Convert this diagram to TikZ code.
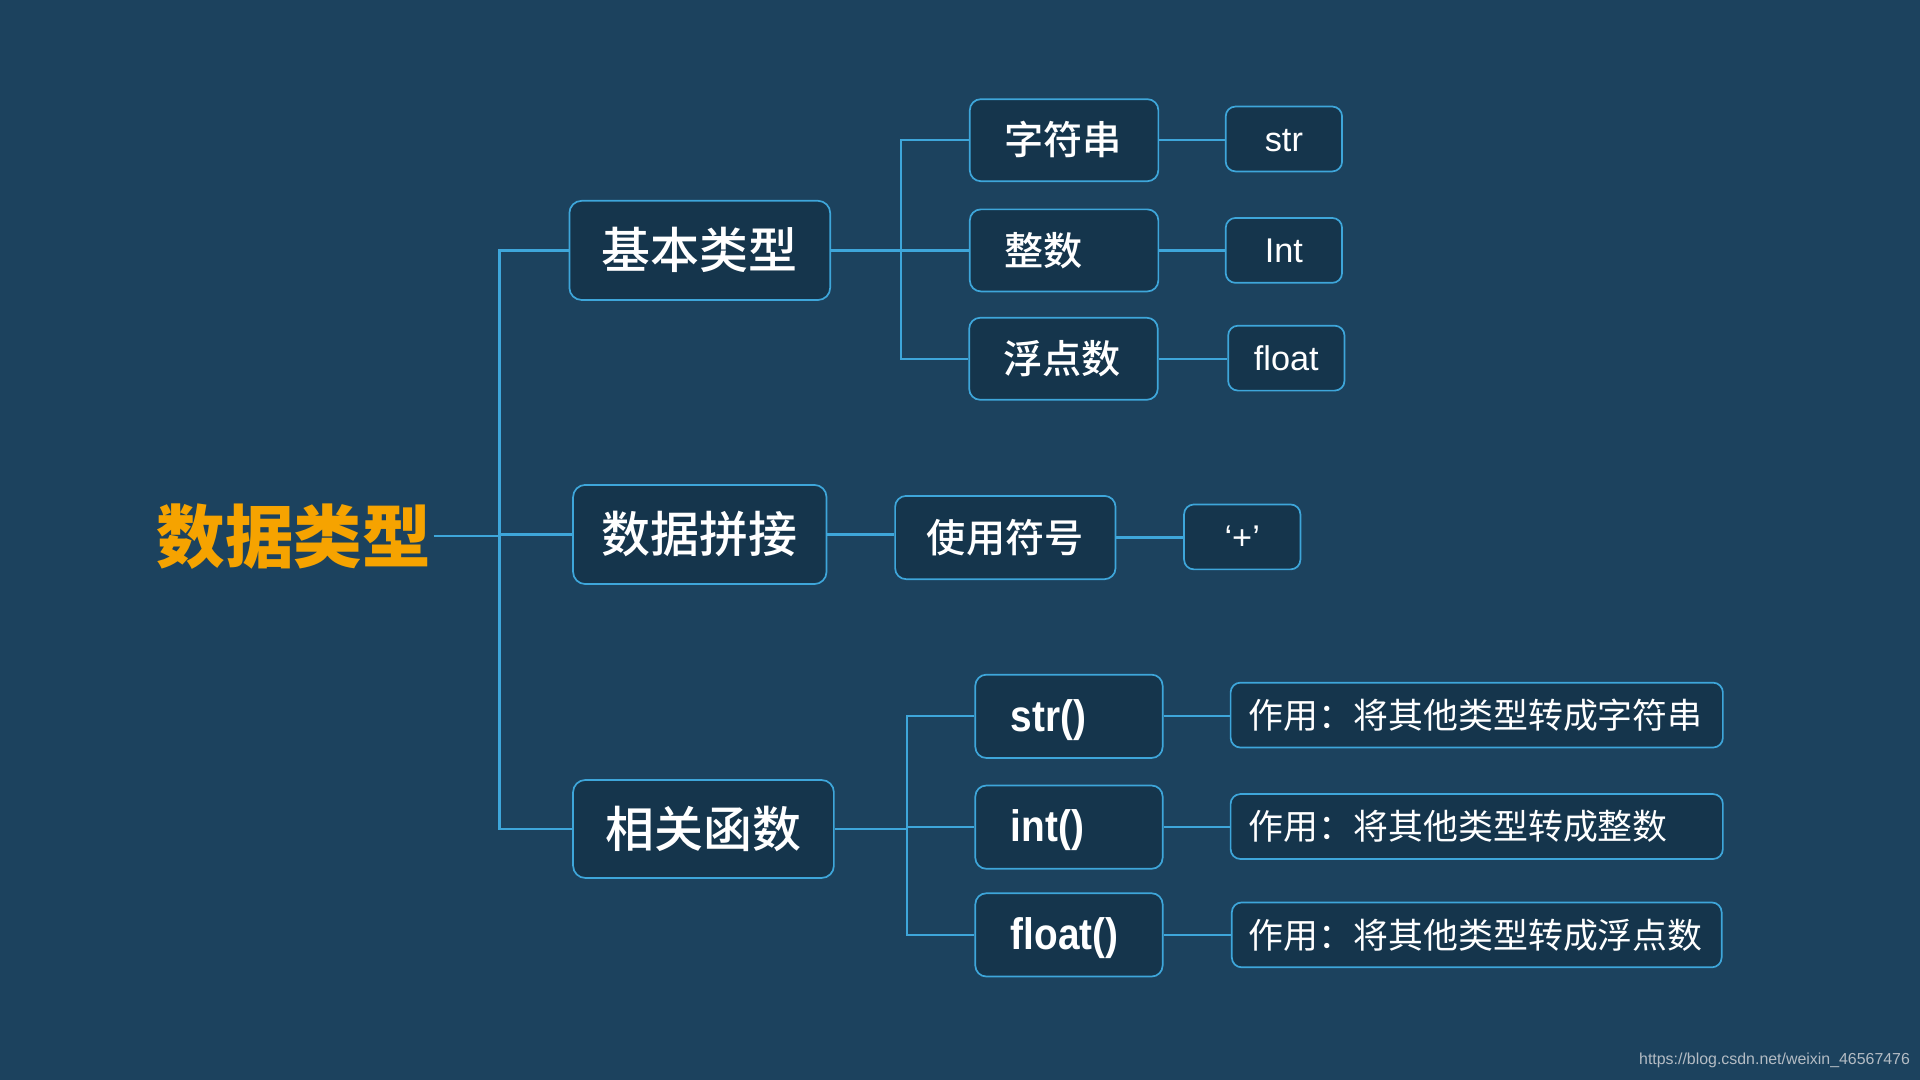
\documentclass[tikz,border=0pt]{standalone}
\usepackage{fontspec}
\newfontfamily\cjk{Noto Sans CJK SC}
\newfontfamily\cjkm{Noto Sans CJK SC Medium}
\newfontfamily\lat{Liberation Sans}
\newfontfamily\latcond{Liberation Sans}[FakeStretch=0.88]
\definecolor{bgC}{RGB}{28,66,94}
\definecolor{boxC}{RGB}{21,53,76}
\definecolor{lineC}{RGB}{62,166,218}
\definecolor{rootC}{RGB}{246,163,0}
\definecolor{wmC}{RGB}{180,188,196}
\tikzset{
  box/.style={draw=lineC, line width=1.4pt, fill=boxC, rounded corners=10pt, text=white, inner sep=0pt, align=center},
  conn/.style={draw=lineC, line width=1.8pt},
  lvlone/.style={box, minimum width=213pt, minimum height=81pt, text height=35pt, text depth=5pt,
    font=\cjkm\fontsize{40}{48}\selectfont},
  lvltwo/.style={box, rounded corners=9pt, inner xsep=28pt, text width=98pt, align=left, minimum height=67pt,
    text height=28pt, text depth=4pt, font=\cjkm\fontsize{32}{38}\selectfont},
  symbox/.style={box, rounded corners=9pt, minimum width=180pt, minimum height=68pt,
    text height=28pt, text depth=4pt, font=\cjkm\fontsize{32}{38}\selectfont},
  funbox/.style={box, rounded corners=9pt, inner xsep=29pt, text width=95pt, align=left, minimum height=68pt,
    text height=24pt, text depth=0pt, font=\latcond\bfseries\fontsize{36}{40}\selectfont},
  leafbox/.style={box, rounded corners=8pt, minimum width=95pt, minimum height=53pt,
    text height=20pt, text depth=0pt, font=\lat\fontsize{28}{32}\selectfont},
  descbox/.style={box, rounded corners=8pt, inner xsep=15pt, text width=372pt, align=left, minimum height=53pt,
    text height=25pt, text depth=3.5pt, font=\cjk\fontsize{28.5}{34}\selectfont},
}
\begin{document}
\begin{tikzpicture}[x=1pt,y=-1pt]
\fill[bgC] (0,0) rectangle (1568,882);
\useasboundingbox (0,0) rectangle (1568,882);

% root
\node[font=\cjk\bfseries\fontsize{56}{60}\selectfont, text=rootC, inner sep=2pt,
      text height=49pt, text depth=7pt] (root) at (240,438) {数据类型};

% level 1
\node[lvlone] (b1) at (571.5,204.5) {基本类型};
\node[lvlone, minimum width=207pt] (b2) at (571.5,436.5) {数据拼接};
\node[lvlone, minimum height=80pt] (b3) at (574.5,677) {相关函数};

% level 2 under 基本类型
\node[lvltwo] (c1) at (869,114.5) {字符串};
\node[lvltwo] (c2) at (869,204.5) {整数};
\node[lvltwo] (c3) at (868.5,293) {浮点数};

% level 3 under 基本类型
\node[leafbox] (e1) at (1048.5,113.5) {str};
\node[leafbox] (e2) at (1048.5,204.5) {Int};
\node[leafbox] (e3) at (1050.5,292.5) {float};

% 数据拼接 branch
\node[symbox] (d1) at (821,439) {使用符号};
\node[leafbox] (e4) at (1014.5,438.5) {‘+’};

% 相关函数 branch
\node[funbox] (f1) at (873,585) {str()};
\node[funbox] (f2) at (873,675.5) {int()};
\node[funbox] (f3) at (873,763.5) {float()};

\node[descbox] (g1) at (1206,584) {作用：将其他类型转成字符串};
\node[descbox] (g2) at (1206,675) {作用：将其他类型转成整数};
\node[descbox, inner xsep=14pt] (g3) at (1206,763.5) {作用：将其他类型转成浮点数};

% trunk coordinates
\coordinate (t) at (408,0);
\coordinate (u) at (736,0);
\coordinate (v) at (741,0);

% connectors: root to level 1
\draw[conn] (root.east) -- (root.east -| t);
\draw[conn] (b1.west) -- (b1.west -| t) -- (b3.west -| t) -- (b3.west);
\draw[conn] (b2.west) -- (b2.west -| t);

% 基本类型 children
\draw[conn] (b1.east) -- (b1.east -| u);
\draw[conn] (c1.west) -- (c1.west -| u) -- (c3.west -| u) -- (c3.west);
\draw[conn] (c2.west) -- (c2.west -| u);
\draw[conn] (c1.east) -- (c1.east -| e1.west);
\draw[conn] (c2.east) -- (c2.east -| e2.west);
\draw[conn] (c3.east) -- (c3.east -| e3.west);

% 数据拼接 children
\draw[conn] (b2.east) -- (b2.east -| d1.west);
\draw[conn] (d1.east) -- (d1.east -| e4.west);

% 相关函数 children
\draw[conn] (b3.east) -- (b3.east -| v);
\draw[conn] (f1.west) -- (f1.west -| v) -- (f3.west -| v) -- (f3.west);
\draw[conn] (f2.west) -- (f2.west -| v);
\draw[conn] (f1.east) -- (f1.east -| g1.west);
\draw[conn] (f2.east) -- (f2.east -| g2.west);
\draw[conn] (f3.east) -- (f3.east -| g3.west);

% watermark
\node[font=\lat\fontsize{13}{15}\selectfont, text=wmC, anchor=east, inner sep=0pt] (wm) at (1560,866) {https://blog.csdn.net/weixin\_46567476};
\end{tikzpicture}
\end{document}
